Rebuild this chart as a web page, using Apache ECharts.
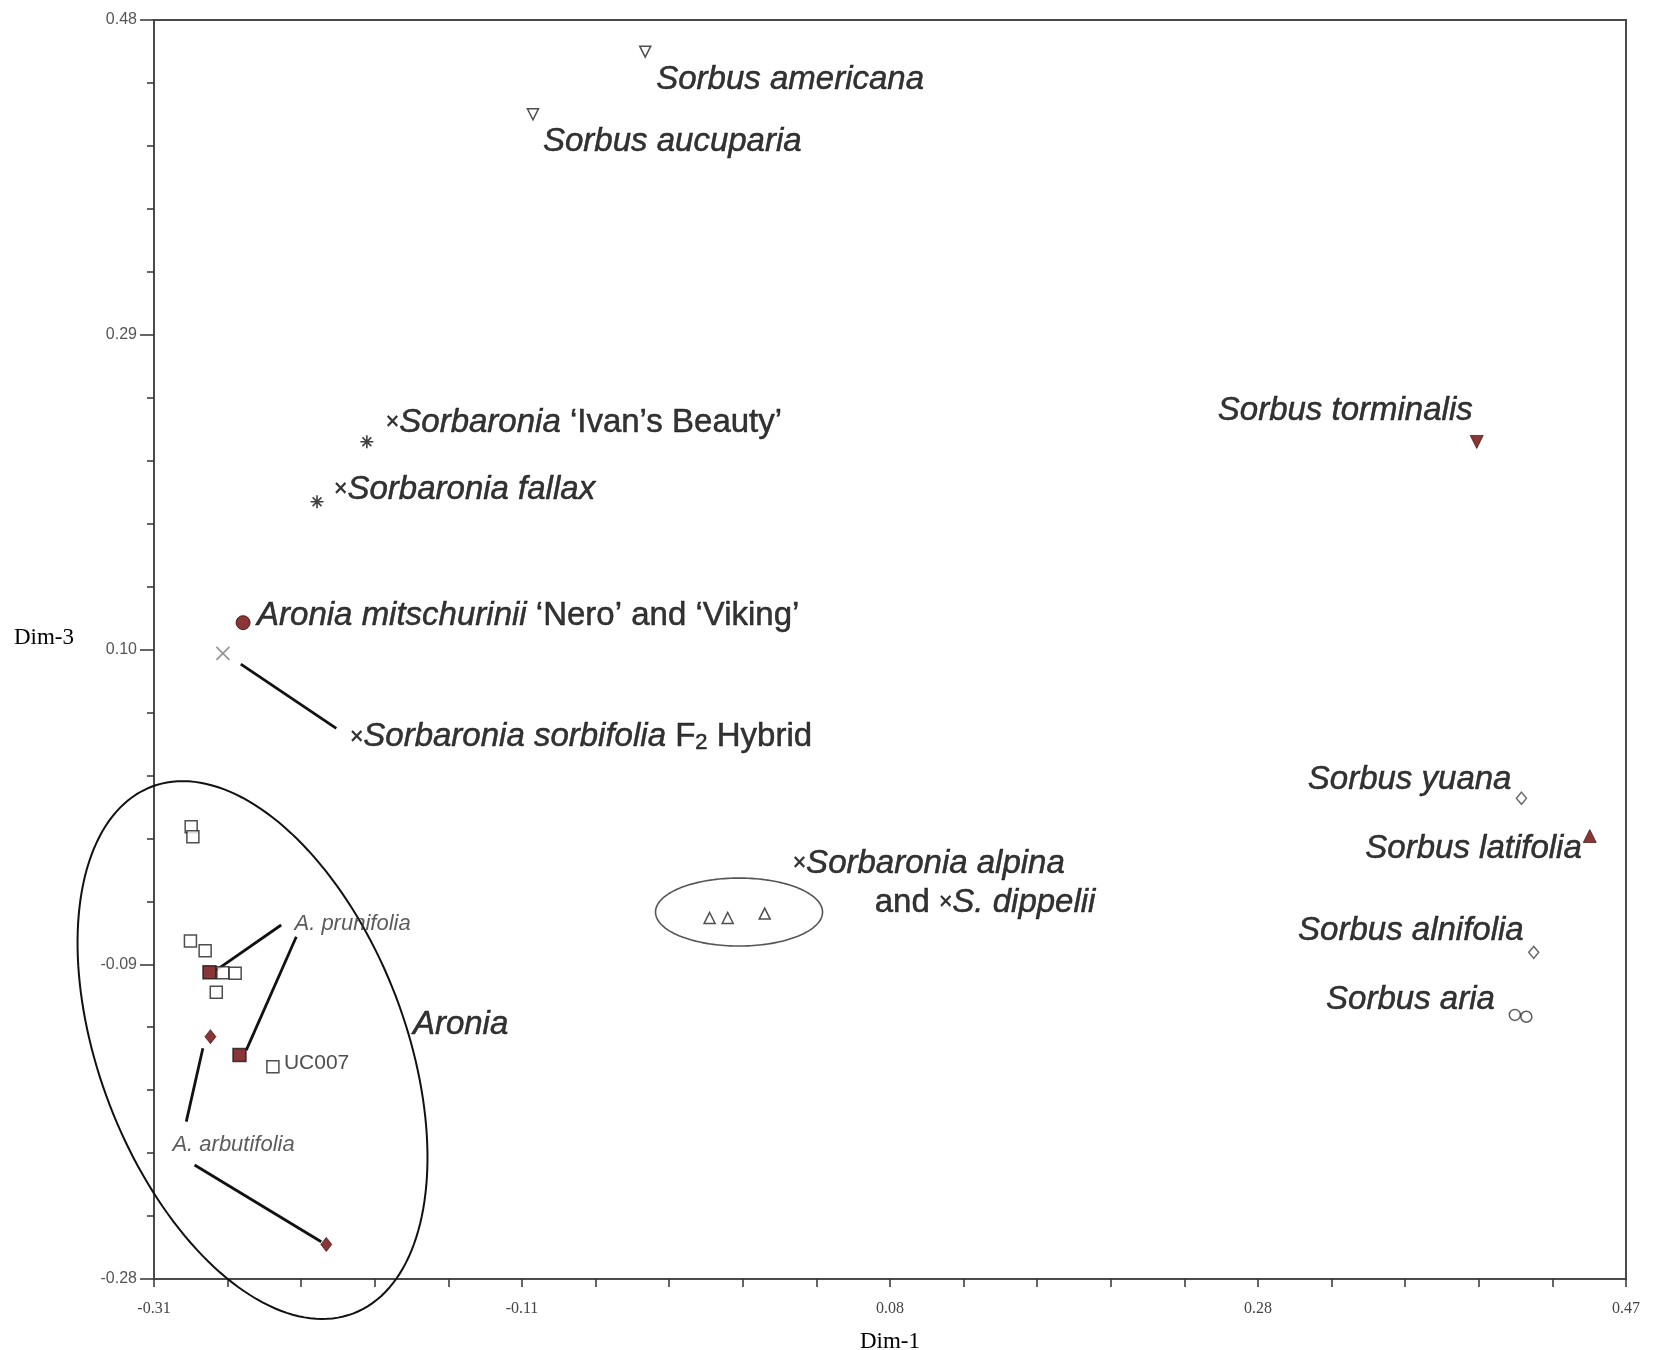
<!DOCTYPE html>
<html>
<head>
<meta charset="utf-8">
<script src="https://cdn.jsdelivr.net/npm/echarts@6/dist/echarts.min.js"></script>
<style>
  html, body { margin: 0; padding: 0; background: #fff; }
  #chart { width: 1659px; height: 1350px; }
</style>
</head>
<body>
<div id="chart"></div>
<script>
// Ordination scores, [Dim-1, Dim-3]
const sorbusAmericana   = [-0.0497, 0.4609];
const sorbusAucuparia   = [-0.1092, 0.4231];
const ivansBeauty       = [-0.1972, 0.2254];
const sorbaroniaFallax  = [-0.2236, 0.1892];
const aroniaMitschurinii = [-0.2628, 0.1162];
const sorbifoliaF2      = [-0.2735, 0.0977];
const sorbusTorminalis  = [0.3909, 0.2253];
const sorbusYuana       = [0.4146, 0.0102];
const sorbusLatifolia   = [0.4508, -0.0126];
const sorbusAlnifolia   = [0.4211, -0.0828];
const sorbusAria        = [[0.4111, -0.1206], [0.4172, -0.1217]];
const alpinaDippelii    = [[-0.0156, -0.0621], [-0.0060, -0.0621], [0.0136, -0.0594]];
const aroniaAccessions  = [[-0.2903, -0.0070], [-0.2894, -0.0130], [-0.2907, -0.0760], [-0.2829, -0.0818],
                           [-0.2735, -0.0951], [-0.2670, -0.0955], [-0.2770, -0.1069]];
const uc007             = [-0.2470, -0.1518];
const aroniaPrunifolia  = [[-0.2806, -0.0949], [-0.2647, -0.1448]];
const aroniaArbutifolia = [[-0.2801, -0.1337], [-0.2187, -0.2591]];

// Leader lines joining labels to their points
const leaderLines = [
  [[-0.2640, 0.0912], [-0.2134, 0.0524]],
  [[-0.2770, -0.0935], [-0.2426, -0.0663]],
  [[-0.2611, -0.1418], [-0.2346, -0.0734]],
  [[-0.2841, -0.1407], [-0.2929, -0.1850]],
  [[-0.2885, -0.2112], [-0.2214, -0.2575]]
];

// Centres of the group outlines (Aronia, alpina/dippelii)
const groupCentres = [[-0.2578, -0.1418], [0.0000, -0.0585]];

// Axis extents and tick labels
const xRange = [-0.31, 0.47];
const yRange = [-0.28, 0.48];
const xTickLabels = ['-0.31', '-0.11', '0.08', '0.28', '0.47'];
const yTickLabels = ['-0.28', '-0.09', '0.10', '0.29', '0.48'];

function evenSteps(range, n) {
  const out = [];
  for (let k = 0; k <= n; k++) {
    const v = range[0] + (range[1] - range[0]) * k / n;
    out.push(Math.round(v * 1e6) / 1e6);
  }
  return out;
}
const xMinorTicks = evenSteps(xRange, 20);
const yMinorTicks = evenSteps(yRange, 20);
const xMajorTicks = evenSteps(xRange, 4);
const yMajorTicks = evenSteps(yRange, 4);

// Outline shapes in pixels: semi-axes and tilt from vertical (degrees)
const outlineShapes = [
  { a: 282, b: 153, tilt: 21, stroke: '#111', width: 2 },
  { a: 34, b: 83.5, tilt: 0, stroke: '#555', width: 1.6 }
];

const SANS = '"Liberation Sans", Arial, sans-serif';
const SERIF = '"Liberation Serif", "Times New Roman", serif';
const INK = '#000';
const RED = '#6e0404';
const AXIS = '#4a4a4a';

// slight outline on the large labels gives them the weight of the printed lettering
const heavy = { textBorderColor: INK, textBorderWidth: 0.5 };
const rich = {
  i:  Object.assign({ fontFamily: SANS, fontSize: 33, fontStyle: 'italic', color: INK }, heavy),
  n:  Object.assign({ fontFamily: SANS, fontSize: 33, color: INK }, heavy),
  x:  Object.assign({ fontFamily: SANS, fontSize: 23, color: INK }, heavy),
  s:  Object.assign({ fontFamily: SANS, fontSize: 22, color: INK, padding: [12, 0, 0, 0] }, heavy),
  si: { fontFamily: SANS, fontSize: 22, fontStyle: 'italic', color: '#333' },
  sn: { fontFamily: SANS, fontSize: 21, color: '#222' }
};

function label(text, dx, dy, align) {
  return {
    show: true,
    position: 'inside',
    align: align || 'left',
    verticalAlign: 'middle',
    offset: [dx, dy],
    color: INK,
    formatter: text,
    rich: rich
  };
}

function point(value, lab) {
  return lab ? { value: value, label: lab } : { value: value };
}

const ASTERISK = 'path://M5,0L5,10M0,5L10,5M1.6,1.6L8.4,8.4M8.4,1.6L1.6,8.4';
const CROSS = 'path://M0,0L10,10M10,0L0,10';

function scatter(name, data, symbol, size, style, extra) {
  return Object.assign({
    type: 'scatter',
    name: name,
    data: data,
    symbol: symbol,
    symbolSize: size,
    itemStyle: style,
    emphasis: { disabled: true },
    z: 5
  }, extra || {});
}

const openStyle = { color: '#fff', borderColor: '#222', borderWidth: 1.5 };

const option = {
  animation: false,
  backgroundColor: '#fff',
  grid: {
    left: 154, right: 33, top: 20, bottom: 71,
    outerBoundsMode: 'none', containLabel: false,
    show: true, borderColor: AXIS, borderWidth: 2
  },
  xAxis: [{
    type: 'value', position: 'bottom',
    min: xRange[0], max: xRange[1],
    name: 'Dim-1', nameLocation: 'middle', nameGap: 51,
    nameTextStyle: { fontFamily: SERIF, fontSize: 23, color: INK },
    axisLine: { show: true, onZero: false, lineStyle: { color: AXIS, width: 2 } },
    axisTick: { show: true, inside: false, length: 8, customValues: xMinorTicks, lineStyle: { color: '#333', width: 1.5 } },
    axisLabel: {
      customValues: xMajorTicks, margin: 22,
      fontFamily: SERIF, fontSize: 16, color: '#444',
      formatter: v => xTickLabels[xMajorTicks.indexOf(v)]
    },
    splitLine: { show: false }
  }],
  yAxis: [{
    type: 'value', position: 'left',
    min: yRange[0], max: yRange[1],
    name: 'Dim-3', nameLocation: 'middle', nameGap: 80, nameRotate: 0,
    nameTextStyle: { fontFamily: SERIF, fontSize: 23, color: INK, align: 'right', verticalAlign: 'bottom' },
    axisLine: { show: true, onZero: false, lineStyle: { color: AXIS, width: 2 } },
    axisTick: { show: true, inside: false, length: 7, customValues: yMinorTicks, lineStyle: { color: '#333', width: 1.5 } },
    axisLabel: {
      customValues: yMajorTicks, margin: 17,
      fontFamily: SANS, fontSize: 16, color: '#555',
      formatter: v => yTickLabels[yMajorTicks.indexOf(v)]
    },
    splitLine: { show: false }
  }, {
    // longer marks at the labelled Dim-3 values
    type: 'value', position: 'left',
    min: yRange[0], max: yRange[1],
    axisLine: { show: false, onZero: false },
    axisTick: { show: true, inside: false, length: 14, customValues: yMajorTicks, lineStyle: { color: '#333', width: 1.5 } },
    axisLabel: { show: false },
    splitLine: { show: false }
  }],
  series: [
    {
      type: 'custom',
      name: 'outlines',
      coordinateSystem: 'cartesian2d',
      clip: false,
      silent: true,
      z: 3,
      encode: { x: 0, y: 1 },
      data: groupCentres,
      renderItem: function (params, api) {
        const s = outlineShapes[params.dataIndex];
        const c = api.coord([api.value(0), api.value(1)]);
        const phi = s.tilt * Math.PI / 180;
        const u = [-Math.sin(phi), -Math.cos(phi)];
        const w = [Math.cos(phi), -Math.sin(phi)];
        const pts = [];
        for (let k = 0; k < 180; k++) {
          const t = 2 * Math.PI * k / 180;
          const p = s.a * Math.cos(t), q = s.b * Math.sin(t);
          pts.push([c[0] + p * u[0] + q * w[0], c[1] + p * u[1] + q * w[1]]);
        }
        return { type: 'polygon', shape: { points: pts }, style: { fill: 'none', stroke: s.stroke, lineWidth: s.width } };
      }
    },
    {
      type: 'lines',
      name: 'leaders',
      coordinateSystem: 'cartesian2d',
      silent: true,
      z: 4,
      lineStyle: { color: '#111', width: 2.8, opacity: 1 },
      data: leaderLines.map(seg => ({ coords: seg }))
    },
    scatter('Sorbus (open, down)', [
      point(sorbusAmericana, label('{i|Sorbus americana}', 11, 28)),
      point(sorbusAucuparia, label('{i|Sorbus aucuparia}', 10, 28))
    ], 'triangle', 11, openStyle, { symbolRotate: 180 }),
    scatter('Sorbaronia hybrids', [
      point(ivansBeauty, label('{x|×}{i|Sorbaronia}{n| ‘Ivan’s Beauty’}', 19, -19)),
      point(sorbaroniaFallax, label('{x|×}{i|Sorbaronia fallax}', 17, -12))
    ], ASTERISK, 13, { color: 'transparent', borderColor: '#111', borderWidth: 1.6 }),
    scatter('Aronia mitschurinii', [
      point(aroniaMitschurinii, label('{i|Aronia mitschurinii}{n| ‘Nero’ and ‘Viking’}', 14, -7))
    ], 'circle', 14, { color: RED, borderColor: '#2a0000', borderWidth: 1 }),
    scatter('Sorbaronia sorbifolia F2', [
      point(sorbifoliaF2, label('{x|×}{i|Sorbaronia sorbifolia}{n| F}{s|2}{n| Hybrid}', 127, 84))
    ], CROSS, 13, { color: 'transparent', borderColor: '#777', borderWidth: 1.6 }),
    scatter('Sorbus torminalis', [
      point(sorbusTorminalis, label('{i|Sorbus torminalis}', -4, -31, 'right'))
    ], 'triangle', 13, { color: RED, borderColor: '#2a0000', borderWidth: 0.8 }, { symbolRotate: 180 }),
    scatter('Sorbus latifolia', [
      point(sorbusLatifolia, label('{i|Sorbus latifolia}', -8, 13, 'right'))
    ], 'triangle', 13, { color: RED, borderColor: '#2a0000', borderWidth: 0.8 }),
    scatter('Sorbus (open diamond)', [
      point(sorbusYuana, label('{i|Sorbus yuana}', -10, -18, 'right')),
      point(sorbusAlnifolia, label('{i|Sorbus alnifolia}', -10, -22, 'right'))
    ], 'diamond', [10, 12], { color: '#fff', borderColor: '#444', borderWidth: 1.5 }),
    scatter('Sorbus aria', [
      point(sorbusAria[0], label('{i|Sorbus aria}', -20, -15, 'right')),
      point(sorbusAria[1])
    ], 'circle', 11, { color: 'transparent', borderColor: '#333', borderWidth: 1.5 }),
    scatter('Sorbaronia alpina / dippelii', [
      point(alpinaDippelii[0]),
      point(alpinaDippelii[1], label('{n|and }{x|×}{i|S. dippelii}', 147, -15)),
      point(alpinaDippelii[2], label('{x|×}{i|Sorbaronia alpina}', 28, -50))
    ], 'triangle', 11, openStyle),
    scatter('Aronia accessions', aroniaAccessions.map(v => point(v)).concat([
      point(uc007, label('{sn|UC007}', 11, -3))
    ]), 'rect', 12, openStyle, { z: 6 }),
    scatter('Aronia group', [
      point(uc007, label('{i|Aronia}', 140, -42))
    ], 'circle', 1, { color: 'rgba(0,0,0,0)' }, { z: 4 }),
    scatter('Aronia prunifolia', [
      point(aroniaPrunifolia[0], label('{si|A. prunifolia}', 85, -48)),
      point(aroniaPrunifolia[1])
    ], 'rect', 13, { color: RED, borderColor: '#1a1a1a', borderWidth: 1.5 }, { z: 7 }),
    scatter('Aronia arbutifolia', [
      point(aroniaArbutifolia[0], label('{si|A. arbutifolia}', -38, 108)),
      point(aroniaArbutifolia[1])
    ], 'diamond', [11, 14], { color: RED, borderColor: '#2a0000', borderWidth: 0.8 }, { z: 7 })
  ]
};

const chart = echarts.init(document.getElementById('chart'), null, { renderer: 'canvas' });
chart.setOption(option);
</script>
</body>
</html>
